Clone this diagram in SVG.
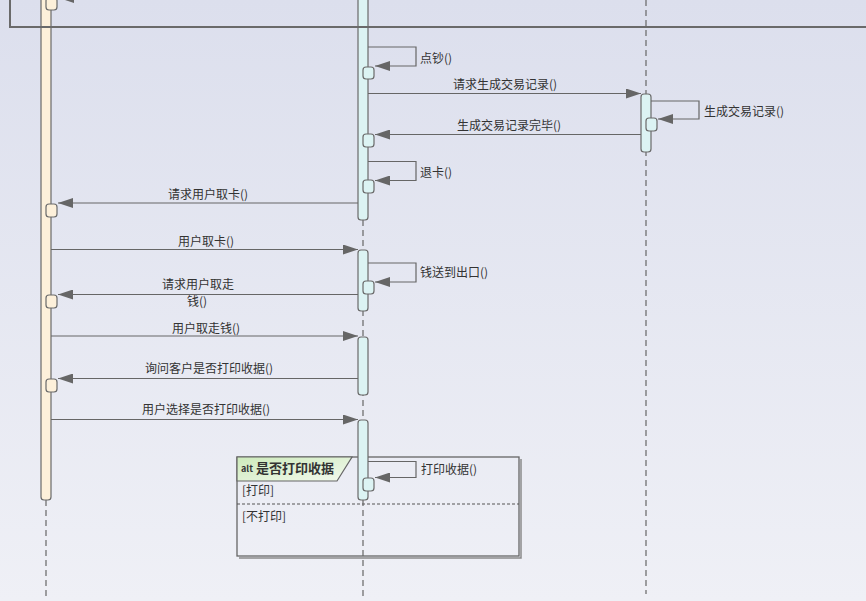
<svg xmlns="http://www.w3.org/2000/svg" width="866" height="601" viewBox="0 0 866 601">
<defs>
<linearGradient id="bg" x1="0" y1="0" x2="0" y2="1">
<stop offset="0" stop-color="#dcdfed"/>
<stop offset="1" stop-color="#eff0f6"/>
</linearGradient>
<linearGradient id="tab" x1="0" y1="0" x2="1" y2="1">
<stop offset="0" stop-color="#cdeabb"/>
<stop offset="1" stop-color="#f3f9ee"/>
</linearGradient>
<marker id="ah" markerWidth="15" markerHeight="10" refX="15" refY="5" orient="auto" markerUnits="userSpaceOnUse">
<path d="M0,0 L15,5 L0,10 z" fill="#666"/>
</marker>
<style>
.life{stroke:#666;stroke-width:1.2;stroke-dasharray:6,4;fill:none}
.barA{fill:#dcf3f3;stroke:#6a6a6a;stroke-width:1.2}
.barU{fill:#fdf0da;stroke:#6a6a6a;stroke-width:1.2}
.msg{stroke:#666;stroke-width:1.2;fill:none;marker-end:url(#ah)}
.t{font-family:"Noto Sans CJK SC","Liberation Sans",sans-serif;font-size:12px;fill:#333}
.frm{fill:none;stroke:#666;stroke-width:1.3}
</style>
</defs>
<rect x="0" y="0" width="866" height="601" fill="url(#bg)"/>

<g id="alt-frame">
<polyline points="521,459 521,558 239,558" fill="none" stroke="#8a8a8a" stroke-width="1.5"/>
<rect x="237" y="457" width="282" height="99" class="frm"/>
<polygon points="237,457 352,457 337,481 237,481" fill="url(#tab)" stroke="#666" stroke-width="1.2"/>
<text x="241" y="472" class="t" style="font-size:9px;font-weight:bold">alt</text>
<text x="256" y="473" class="t" style="font-size:13px;font-weight:bold">是否打印收据</text>
<line x1="237" y1="504" x2="519" y2="504" stroke="#555" stroke-width="1.2" stroke-dasharray="3,2"/>
<text x="242" y="495" class="t">[打印]</text>
<text x="242" y="521" class="t">[不打印]</text>
</g>

<g id="lifeline-user">
<line x1="46" y1="500" x2="46" y2="600" class="life"/>
<rect x="41" y="-6" width="10" height="506" rx="3" class="barU"/>
<rect x="46" y="-2" width="11" height="12" rx="3" class="barU"/>
<rect x="46" y="204" width="11" height="13" rx="3" class="barU"/>
<rect x="46" y="295" width="11" height="13" rx="3" class="barU"/>
<rect x="46" y="379" width="11" height="13" rx="3" class="barU"/>
</g>

<g id="lifeline-atm">
<line x1="363" y1="0" x2="363" y2="600" class="life"/>
<rect x="358" y="-6" width="10" height="226" rx="3" class="barA"/>
<rect x="358" y="250" width="10" height="61" rx="3" class="barA"/>
<rect x="358" y="337" width="10" height="58" rx="3" class="barA"/>
<rect x="358" y="420" width="10" height="80" rx="3" class="barA"/>
<rect x="363" y="67" width="11" height="12" rx="3" class="barA"/>
<rect x="363" y="134" width="11" height="13" rx="3" class="barA"/>
<rect x="363" y="180" width="11" height="13" rx="3" class="barA"/>
<rect x="363" y="281" width="11" height="13" rx="3" class="barA"/>
<rect x="363" y="478" width="11" height="13" rx="3" class="barA"/>
</g>

<g id="lifeline-bank">
<line x1="646" y1="0" x2="646" y2="594" class="life"/>
<rect x="641" y="94" width="10" height="58" rx="3" class="barA"/>
<rect x="646" y="118" width="11" height="13" rx="3" class="barA"/>
</g>

<g id="top-frame">
<polyline points="10,0 10,27 866,27" fill="none" stroke="#6a6a6a" stroke-width="2"/>
</g>

<g id="connectors">
<line x1="358" y1="-2" x2="59" y2="-2" class="msg"/>
<path d="M368,47 H416 V66 H375" class="msg"/>
<line x1="368" y1="93.5" x2="641" y2="93.5" class="msg"/>
<path d="M651,101 H699 V119 H658" class="msg"/>
<line x1="641" y1="134.5" x2="375" y2="134.5" class="msg"/>
<path d="M368,161.5 H416 V180.5 H375" class="msg"/>
<line x1="358" y1="203" x2="58" y2="203" class="msg"/>
<line x1="51" y1="249.5" x2="358" y2="249.5" class="msg"/>
<path d="M368,263 H416 V282 H375" class="msg"/>
<line x1="358" y1="294.5" x2="58" y2="294.5" class="msg"/>
<line x1="51" y1="336" x2="358" y2="336" class="msg"/>
<line x1="358" y1="378.5" x2="58" y2="378.5" class="msg"/>
<line x1="51" y1="419.5" x2="358" y2="419.5" class="msg"/>
<path d="M368,461.5 H416 V477.5 H375" class="msg"/>
</g>

<g id="labels">
<text x="420" y="63" class="t">点钞()</text>
<text x="453" y="89" class="t">请求生成交易记录()</text>
<text x="704" y="116" class="t">生成交易记录()</text>
<text x="457" y="130" class="t">生成交易记录完毕()</text>
<text x="420" y="177" class="t">退卡()</text>
<text x="168" y="199" class="t">请求用户取卡()</text>
<text x="178" y="246" class="t">用户取卡()</text>
<text x="420" y="277" class="t">钱送到出口()</text>
<text x="162" y="289" class="t">请求用户取走</text>
<text x="187" y="306" class="t">钱()</text>
<text x="172" y="333" class="t">用户取走钱()</text>
<text x="145" y="373" class="t">询问客户是否打印收据()</text>
<text x="142" y="414" class="t">用户选择是否打印收据()</text>
<text x="421" y="474" class="t">打印收据()</text>
</g>
</svg>
